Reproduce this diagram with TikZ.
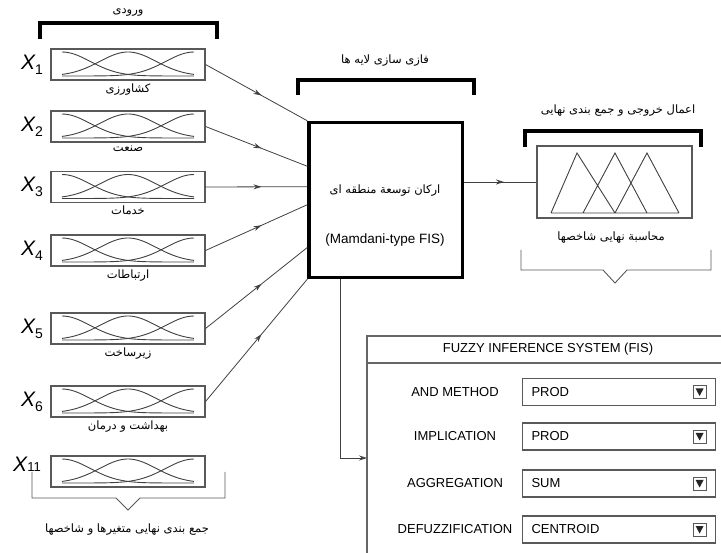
\documentclass[tikz,border=0pt]{standalone}
\usepackage{fontspec}
\setmainfont{Liberation Sans}
\newfontfamily\farsi[Script=Arabic]{DejaVu Sans}
\TeXXeTstate=1
\usepackage{tikz}
\usetikzlibrary{positioning,calc,arrows.meta,decorations.markings}
\newcommand{\fa}[1]{{\farsi\beginR #1\endR}}
\newcommand{\xvar}[1]{{\fontsize{21}{21}\selectfont\itshape X}\raisebox{-5pt}{\fontsize{14}{14}\selectfont #1}}

\begin{document}
\begin{tikzpicture}[x=1pt,y=-1pt,
    mfbox/.style={draw=black!65,line width=1.1pt,minimum width=154pt,minimum height=31pt,inner sep=0pt},
    mf/.style={black!75,line width=0.9pt},
    fatext/.style={font=\fontsize{11.5}{12}\selectfont,inner sep=1pt},
    bracket/.style={line width=3.2pt},
    brace/.style={black!65,line width=0.9pt},
    conn/.style={black!75,line width=0.8pt},
    midarrow/.style={conn,postaction={decorate},decoration={markings,mark=at position .55 with {\arrow{Stealth[length=8pt,width=5pt]}}}},
    optbox/.style={draw=black!65,line width=1.1pt,minimum width=193pt,minimum height=27pt,anchor=west},
    optfont/.style={font=\fontsize{13}{13}\selectfont}
  ]
  \useasboundingbox (0,0) rectangle (721,553);

  % input variables
  \foreach \n/\yy/\name in {1/64.5/کشاورزی, 2/126.5/صنعت, 3/187/خدمات, 4/250.5/ارتباطات, 5/328.5/زیرساخت, 6/401.5/بهداشت و درمان}{
    \node[mfbox] (in\n) at (128,\yy) {};
    \node[left=4pt of in\n] (x\n) {\xvar{\n}};
    \node[fatext, below=2pt of in\n] (lab\n) {\fa{\name}};
  }
  \node[mfbox] (in7) at (128,471.5) {};
  \node (x7) at (27,464) {{\fontsize{21}{21}\selectfont\itshape X}{\fontsize{13}{13}\selectfont 11}};

  % membership curves
  \foreach \n in {1,...,7}{
    \begin{scope}[shift={(in\n)}]
      \draw[mf] plot[domain=-66:66,samples=40] (\x,{11.5-24*exp(0-((\x+66)/40)^2)});
      \draw[mf] plot[domain=-66:66,samples=40] (\x,{11.5-24*exp(0-(\x/40)^2)});
      \draw[mf] plot[domain=-66:66,samples=40] (\x,{11.5-24*exp(0-((\x-66)/40)^2)});
    \end{scope}
  }

  % brackets and braces
  \node[fatext] (intitle) at (128,13) {\fa{ورودی}};
  \draw[bracket] (40,39) -- (40,23) -- (217,23) -- (217,39);
  \draw[brace] (32,472) -- (32,498) -- (116,498) -- (128,510) -- (140,498) -- (225,498) -- (225,472);
  \node[fatext] (insum) at (127,530) {\fa{جمع بندی نهایی متغیرها و شاخصها}};

  % inference box
  \node[draw,line width=3.5pt,minimum width=153.5pt,minimum height=155pt] (fis) at (385.75,200) {};
  \node[fatext] (fisfa) at (385,191) {\fa{ارکان توسعة منطقه ای}};
  \node[font=\fontsize{13.5}{14}\selectfont] (fisname) at (385,240) {(Mamdani-type FIS)};
  \node[fatext] (fuztitle) at (385,61) {\fa{فازی سازی لایه ها}};
  \draw[bracket] (298,95) -- (298,80) -- (474,80) -- (474,95);

  \foreach \n/\t in {1/0.0,2/0.287,3/0.416,4/0.53,5/0.8,6/1.0}
    \draw[midarrow] (in\n.east) -- ($(fis.north west)!\t!(fis.south west)$);

  % output
  \node[draw=black!65,line width=1.1pt,minimum width=155pt,minimum height=72pt] (outbox) at (614.5,182) {};
  \draw[midarrow] (fis.east |- outbox.west) -- (outbox.west);
  \draw[mf] (551,213) -- (577,153) -- (615,213)
            (583,213) -- (615,153) -- (647,213)
            (615,213) -- (647,153) -- (679,213)
            (551,213) -- (679,213);
  \node[fatext] (outtitle) at (618,111) {\fa{اعمال خروجی و جمع بندی نهایی}};
  \draw[bracket] (525,147) -- (525,131) -- (701,131) -- (701,147);
  \node[fatext] (outlab) at (611,238) {\fa{محاسبة نهایی شاخصها}};
  \draw[brace] (521,250) -- (521,270) -- (603,270) -- (615,283) -- (627,270) -- (711,270) -- (711,250);

  % FIS settings panel
  \draw[draw=black!60,line width=1.1pt] (367,336) rectangle (730,560);
  \draw[draw=black!60,line width=1.1pt] (367,363) -- (730,363);
  \node[optfont] (paneltitle) at (548,349.5) {FUZZY INFERENCE SYSTEM (FIS)};
  \coordinate (pin) at (367,458);
  \draw[conn,-{Stealth[length=8pt,width=5pt]}] ([xshift=33pt]fis.south west) |- (pin);

  \foreach \i/\lab/\val/\yy in {1/AND METHOD/PROD/392, 2/IMPLICATION/PROD/436.5, 3/AGGREGATION/SUM/483.5, 4/DEFUZZIFICATION/CENTROID/529.5}{
    \node[optfont] (opt\i) at (455,\yy) {\lab};
    \node[optbox] (box\i) at (522,\yy) {};
    \node[optfont,anchor=west] (val\i) at ([xshift=6pt]box\i.west) {\val};
    \node[draw=black!65,line width=0.9pt,minimum size=13pt,inner sep=0pt] (dd\i) at ([xshift=-16.5pt]box\i.east) {};
    \fill[black!85] ($(dd\i.center)+(-4,-3.5)$) -- ++(8,0) -- ($(dd\i.center)+(0,4)$) -- cycle;
  }
\end{tikzpicture}
\end{document}
